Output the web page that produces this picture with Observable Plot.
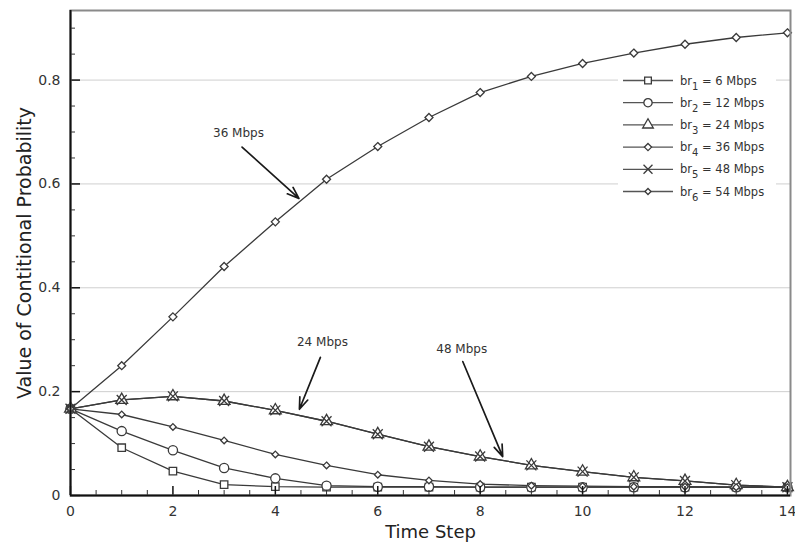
<!DOCTYPE html>
<html><head><meta charset="utf-8">
<script src="https://cdn.jsdelivr.net/npm/d3@7"></script>
<script src="https://cdn.jsdelivr.net/npm/@observablehq/plot@0.6"></script>
<style>body{margin:0;background:#fff;}</style>
</head><body><div id="chart"></div>
<script>
// ---- data ----
const steps = [0,1,2,3,4,5,6,7,8,9,10,11,12,13,14];
const br1 = [0.167,0.092,0.047,0.021,0.017,0.016,0.016,0.016,0.016,0.016,0.016,0.016,0.016,0.016,0.016];
const br2 = [0.167,0.124,0.087,0.053,0.033,0.019,0.017,0.017,0.016,0.016,0.016,0.016,0.016,0.016,0.016];
const br3 = [0.167,0.184,0.191,0.182,0.164,0.143,0.118,0.094,0.075,0.058,0.046,0.035,0.028,0.020,0.016];
const br4 = [0.167,0.250,0.344,0.441,0.527,0.609,0.672,0.728,0.776,0.807,0.832,0.852,0.869,0.882,0.891];
const br5 = [0.167,0.184,0.191,0.182,0.164,0.143,0.118,0.094,0.075,0.058,0.046,0.035,0.028,0.020,0.016];
const br6 = [0.167,0.156,0.132,0.106,0.079,0.058,0.040,0.029,0.022,0.019,0.018,0.017,0.017,0.016,0.016];
const seriesValues = [br1, br2, br3, br4, br5, br6];
const legendSubs = ["1","2","3","4","5","6"];
const legendRates = ["6 Mbps","12 Mbps","24 Mbps","36 Mbps","48 Mbps","54 Mbps"];
const symbolNames = ["square","circle","triangle","diamond2","times","diamond2"];
const symbolRadii = [4.2,4.6,4.4,3.6,4.6,3.0];
const xTicks = [0,2,4,6,8,10,12,14];
const yTicks = [0,0.2,0.4,0.6,0.8];
const gridY = [0.2,0.4,0.6,0.8];
const annLabels = ["36 Mbps","24 Mbps","48 Mbps"];
const annTextX = [3.28,4.92,7.64];
const annTextY = [0.697,0.295,0.281];
const arrowX1 = [3.35,4.88,7.66];
const arrowY1 = [0.671,0.266,0.258];
const arrowX2 = [4.46,4.47,8.44];
const arrowY2 = [0.572,0.166,0.075];

// ---- build tables ----
const rows = [];
seriesValues.forEach((vals, s) => vals.forEach((v, i) => rows.push({s, t: steps[i], v})));
const annotations = annLabels.map((label, i) => ({label, tx: annTextX[i], ty: annTextY[i], x1: arrowX1[i], y1: arrowY1[i], x2: arrowX2[i], y2: arrowY2[i]}));
const xMinor = d3.range(0, 14.01, 0.5).filter(d => !xTicks.includes(d));
const yMinor = d3.range(0, 0.931, 0.05).map(d => +d.toFixed(2)).filter(d => !yTicks.includes(d));

const W = 795, H = 554, mL = 70, mR = 5, mT = 10, mB = 59;
const innerW = W - mL - mR, innerH = H - mT - mB;
const lineColor = "#3a3a3a";

const marks = [
  Plot.ruleY(gridY, {stroke: "#cfcfcf", strokeWidth: 1}),
];
seriesValues.forEach((vals, s) => {
  const data = rows.filter(d => d.s === s);
  marks.push(Plot.line(data, {x: "t", y: "v", stroke: lineColor, strokeWidth: 1.3}));
});
seriesValues.forEach((vals, s) => {
  const data = rows.filter(d => d.s === s);
  marks.push(Plot.dot(data, {x: "t", y: "v", symbol: symbolNames[s], r: symbolRadii[s], stroke: lineColor, fill: symbolNames[s] === "times" ? "none" : "white", strokeWidth: 1.3}));
});
marks.push(
  // inward ticks
  Plot.tickY(yTicks, {y: d => d, insetRight: innerW - 10, stroke: "#111", strokeWidth: 1.5}),
  Plot.tickY(yMinor, {y: d => d, insetRight: innerW - 5, stroke: "#333", strokeWidth: 1}),
  Plot.tickX(xTicks, {x: d => d, insetTop: innerH - 9, stroke: "#111", strokeWidth: 1.5}),
  Plot.tickX(xMinor, {x: d => d, insetTop: innerH - 5, stroke: "#333", strokeWidth: 1}),
  // frame
  Plot.frame({stroke: "#8a8a8a", strokeWidth: 2}),
  Plot.ruleX([0], {stroke: "#111", strokeWidth: 2}),
  Plot.ruleY([0], {stroke: "#111", strokeWidth: 2}),
  // annotations
  Plot.arrow(annotations, {x1: "x1", y1: "y1", x2: "x2", y2: "y2", stroke: "#1a1a1a", strokeWidth: 1.7, headLength: 11, headAngle: 40}),
  Plot.text(annotations, {x: "tx", y: "ty", text: "label", fontSize: 12, fill: "#333"}),
  // axis titles
  Plot.text(["Time Step"], {frameAnchor: "bottom", dy: 42, text: d => d, fontSize: 18, fill: "#222"}),
  Plot.text(["Value of Contitional Probability"], {frameAnchor: "left", textAnchor: "middle", dx: -46, rotate: -90, text: d => d, fontSize: 19, fill: "#222"}),
  Plot.axisX(xTicks, {tickSize: 0, tickPadding: 11, fontSize: 14, fill: "#333"}),
  Plot.axisY(yTicks, {tickSize: 0, tickPadding: 10, fontSize: 14, fill: "#333", tickFormat: d => d === 0 ? "0" : d3.format(".1f")(d)})
);

const chart = Plot.plot({
  width: W, height: H,
  marginLeft: mL, marginRight: mR, marginTop: mT, marginBottom: mB,
  style: {fontFamily: "DejaVu Sans, sans-serif", background: "#fff"},
  x: {domain: [0, 14.06], label: null},
  y: {domain: [0, 0.934], label: null},
  marks
});
document.getElementById("chart").appendChild(chart);

// ---- legend ----
const svg = d3.select(chart);
const lg = svg.append("g").attr("font-family", "DejaVu Sans, sans-serif").attr("font-size", 11.5).attr("fill", "#333").attr("text-anchor", "start");
lg.append("rect").attr("x", 618).attr("y", 69).attr("width", 158).attr("height", 135).attr("fill", "#fff");
const typeMap = {square: d3.symbolSquare, circle: d3.symbolCircle, triangle: d3.symbolTriangle, diamond2: d3.symbolDiamond2 || d3.symbolDiamond, times: d3.symbolTimes || d3.symbolCross};
legendRates.forEach((rate, i) => {
  const y = 80.5 + 22.2 * i;
  lg.append("line").attr("x1", 623).attr("x2", 673).attr("y1", y).attr("y2", y).attr("stroke", "#555").attr("stroke-width", 1.3);
  const r = symbolRadii[i] * 0.9;
  lg.append("path").attr("transform", `translate(648,${y})`)
    .attr("d", d3.symbol().type(typeMap[symbolNames[i]]).size(Math.PI * r * r)())
    .attr("fill", symbolNames[i] === "times" ? "none" : "#fff").attr("stroke", lineColor).attr("stroke-width", 1.3);
  const t = lg.append("text").attr("x", 680).attr("y", y + 4).attr("text-anchor", "start");
  t.append("tspan").text("br");
  t.append("tspan").attr("dy", 5).attr("font-size", 10).text(legendSubs[i]);
  t.append("tspan").attr("dy", -5).text(" = " + rate);
});
</script></body></html>
